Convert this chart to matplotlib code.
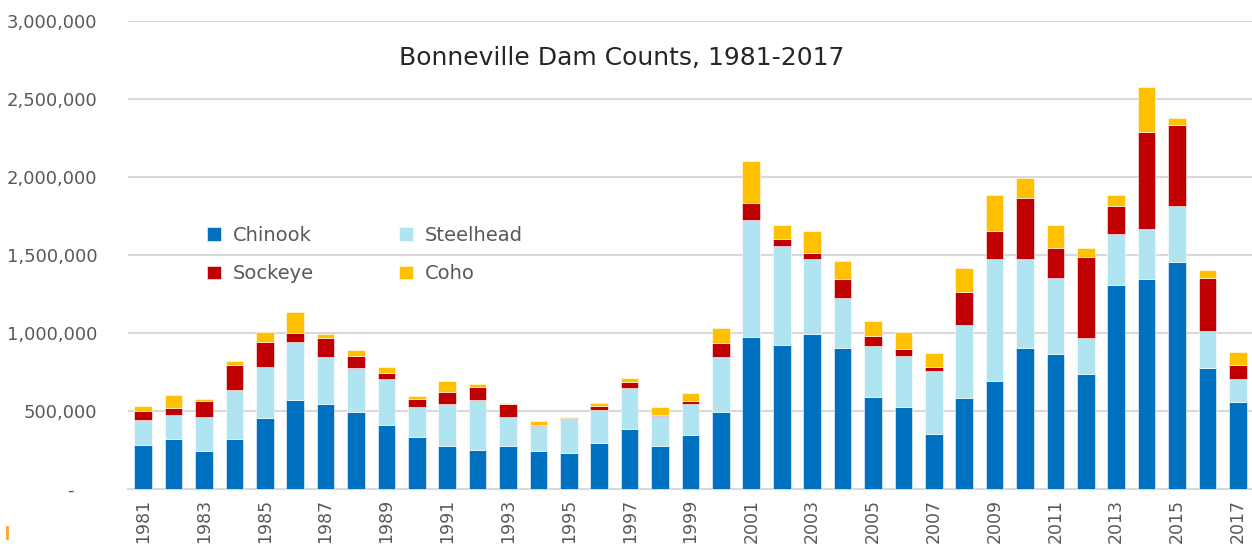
import numpy as np
import matplotlib
matplotlib.use("Agg")
import matplotlib.pyplot as plt
from matplotlib.ticker import FuncFormatter, MultipleLocator
from matplotlib.lines import Line2D

# Bonneville Dam counts by species, 1981-2017
years = list(range(1981, 2018))
chinook = [284000, 322000, 244000, 322000, 453000, 572000, 542000, 494000, 412000, 333000,
           273000, 252000, 273000, 244000, 233000, 292000, 382000, 273000, 344000, 494000,
           972000, 923000, 993000, 904000, 592000, 523000, 354000, 583000, 694000, 904000,
           863000, 735000, 1305000, 1344000, 1453000, 773000, 555000]
steelhead = [160000, 150000, 219000, 313000, 331000, 372000, 302000, 282000, 293000, 190000,
             269000, 320000, 190000, 160000, 216000, 214000, 263000, 195000, 201000, 350000,
             752000, 632000, 481000, 320000, 322000, 331000, 400000, 470000, 780000, 568000,
             491000, 230000, 330000, 320000, 361000, 240000, 148000]
sockeye = [58000, 49000, 99000, 157000, 160000, 58000, 121000, 77000, 39000, 51000,
           82000, 82000, 79000, 8000, 8000, 28000, 38000, 6000, 19000, 89000,
           109000, 47000, 39000, 120000, 69000, 41000, 30000, 210000, 180000, 391000,
           188000, 520000, 179000, 622000, 519000, 340000, 89000]
coho = [32000, 84000, 12000, 30000, 60000, 130000, 29000, 40000, 40000, 22000,
        70000, 19000, 11000, 21000, 6000, 19000, 30000, 49000, 49000, 101000,
        271000, 92000, 141000, 119000, 92000, 111000, 90000, 151000, 231000, 133000,
        152000, 60000, 71000, 288000, 43000, 53000, 84000]

series = [("Chinook", chinook, "#0070C0"),
          ("Steelhead", steelhead, "#B0E4F0"),
          ("Sockeye", sockeye, "#C00000"),
          ("Coho", coho, "#FFC000")]

plt.rcParams['font.family'] = ['DejaVu Sans']
text_color = "#595959"

fig = plt.figure(figsize=(12.52, 5.46), dpi=100)
ax = fig.add_axes([0.1022, 0.1044, 0.8986, 0.8571])

x = np.arange(len(years))
bottom = np.zeros(len(years))
bars = {}
for name, vals, color in series:
    bars[name] = ax.bar(x, vals, width=0.58, bottom=bottom, color=color,
                        edgecolor="white", linewidth=0.4, label=name, zorder=3)
    bottom += np.array(vals)

ax.set_xlim(-0.5, len(years) - 0.5)
ax.set_ylim(0, 3000000)
ax.yaxis.set_major_locator(MultipleLocator(500000))
ax.yaxis.set_major_formatter(FuncFormatter(lambda v, p: "-    " if v == 0 else f"{int(v):,}"))
ax.grid(axis="y", color="#D9D9D9", linewidth=1.5, zorder=0)

ax.set_xticks(x[::2])
ax.set_xticklabels([str(y) for y in years[::2]], rotation=90)
ax.tick_params(axis="x", length=0, pad=7, labelsize=12.5, labelcolor=text_color)
ax.tick_params(axis="y", length=0, pad=22, labelsize=13, labelcolor=text_color)

for side in ["top", "right", "left"]:
    ax.spines[side].set_visible(False)
ax.spines["bottom"].set_color("#D9D9D9")
ax.spines["bottom"].set_linewidth(1.5)

ax.text(0.439, 0.921, "Bonneville Dam Counts, 1981-2017", transform=ax.transAxes,
        ha="center", va="center", fontsize=18, color="#262626")

# legend rows: Chinook / Steelhead, Sockeye / Coho
order = ["Chinook", "Sockeye", "Steelhead", "Coho"]
ax.legend([bars[n] for n in order], order, ncol=2, loc="upper left",
          bbox_to_anchor=(0.055, 0.60), frameon=False, fontsize=14,
          handlelength=0.7, handleheight=0.7, handletextpad=0.6,
          columnspacing=4.4, labelspacing=1.0, labelcolor=text_color)

# small orange mark at bottom-left corner
fig.add_artist(Line2D([7 / 1252, 7 / 1252], [1 - 538 / 546, 1 - 527 / 546],
                      color="#F5A623", linewidth=2))

plt.savefig("out.png", dpi=100)
plt.close()
